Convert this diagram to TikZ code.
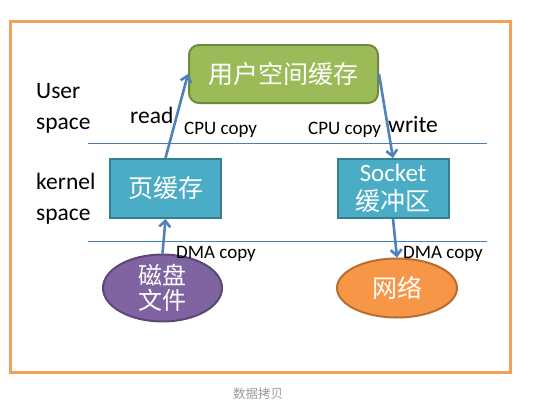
\documentclass[tikz,border=0pt]{standalone}
\usepackage{fontspec}
\setmainfont{Carlito}
\newfontfamily\cjk{Noto Sans CJK SC}
\usetikzlibrary{shapes.geometric,arrows.meta}
\definecolor{frameor}{HTML}{F2A15A}
\definecolor{grfill}{HTML}{9BBB59}
\definecolor{grdraw}{HTML}{71893F}
\definecolor{blfill}{HTML}{4BACC6}
\definecolor{bldraw}{HTML}{357D91}
\definecolor{pufill}{HTML}{8064A2}
\definecolor{pudraw}{HTML}{5C4776}
\definecolor{orfill}{HTML}{F79646}
\definecolor{ordraw}{HTML}{B66D31}
\definecolor{arrowblue}{HTML}{4F81BD}
\definecolor{sepline}{HTML}{4A7EBB}
\definecolor{capgray}{HTML}{9A9A9A}
\tikzset{
  big/.style={font=\fontsize{23.5}{27}\selectfont, inner sep=0pt, anchor=base west},
  small/.style={font=\fontsize{19}{22}\selectfont, inner sep=0pt, anchor=base west},
  boxtext/.style={text=white, font=\fontsize{25}{29}\selectfont, align=center, inner sep=0pt},
  bluebox/.style={boxtext, rectangle, fill=blfill, draw=bldraw, line width=2pt, minimum width=111pt, minimum height=59pt},
  flow/.style={draw=arrowblue, line width=2.6pt, -{Straight Barb[length=6pt,width=11pt,line width=2.6pt]}},
  sep/.style={draw=sepline, line width=0.9pt},
}
\begin{document}
\begin{tikzpicture}[x=1pt,y=-1pt]
\useasboundingbox (0,0) rectangle (548,407);
\fill[white] (0,0) rectangle (548,407);
\draw[frameor, line width=3pt] (10,21) rectangle (510,372);

% separator lines
\coordinate (l1a) at (88,143);
\coordinate (l1b) at (487,143);
\coordinate (l2a) at (88,241);
\coordinate (l2b) at (487,241);
\draw[sep] (l1a) -- (l1b);
\draw[sep] (l2a) -- (l2b);

% nodes
\node[boxtext, rectangle, rounded corners=10pt, fill=grfill, draw=grdraw, line width=2pt, minimum width=189pt, minimum height=58pt] (user) at (283.5,74) {\cjk 用户空间缓存};
\node[bluebox] (pc) at (165.5,188.5) {\cjk 页缓存};
\node[bluebox, font=\fontsize{25}{30}\selectfont] (sock) at (393,188.5) {Socket\\[-1pt]{\cjk 缓冲区}};
\node[boxtext, ellipse, fill=pufill, draw=pudraw, line width=2pt, minimum width=119pt, minimum height=59pt, font=\fontsize{24}{25}\selectfont] (disk) at (162.5,288) {\cjk 磁盘\\\cjk 文件};
\node[boxtext, ellipse, fill=orfill, draw=ordraw, line width=2pt, minimum width=120pt, minimum height=59pt] (net) at (397,288) {\cjk 网络};

% labels
\node[big] (ulab1) at (36,98) {User};
\node[big] (ulab2) at (36,129) {space};
\node[big] (klab1) at (36,189) {kernel};
\node[big] (klab2) at (36,220) {space};
\node[big] (rd) at (130,123) {read};
\node[big] (wr) at (388,132) {write};
\node[small] (cpu1) at (184,134) {CPU copy};
\node[small] (cpu2) at (308,134) {CPU copy};
\node[small] (dma1) at (176,258) {DMA copy};
\node[small] (dma2) at (403,258) {DMA copy};
\node[font=\cjk\fontsize{12.5}{14}\selectfont, text=capgray, inner sep=0pt] (cap) at (258,394) {数据拷贝};

% arrows
\draw[flow] (pc.north) -- (user.west);
\draw[flow] (user.east) -- (sock.north);
\draw[flow] (disk.north) -- (pc.south);
\draw[flow] (sock.south) -- (net.north);
\end{tikzpicture}
\end{document}
